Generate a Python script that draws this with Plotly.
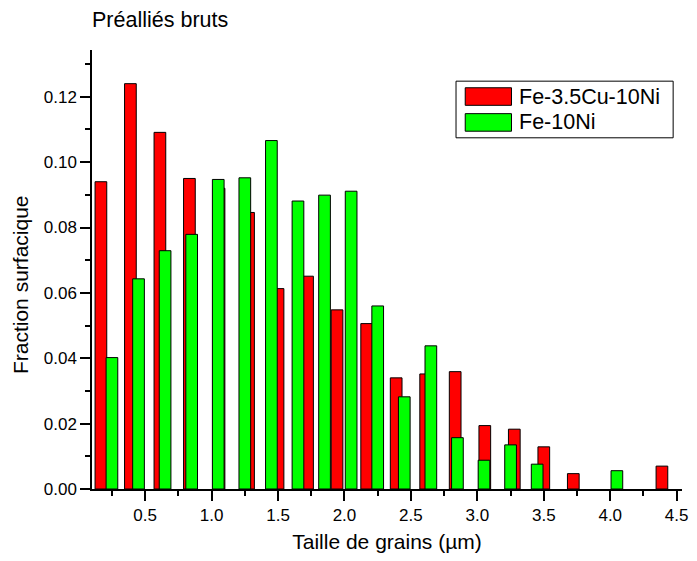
import plotly.graph_objects as go

# données
taille_cu = [0.167, 0.389, 0.611, 0.833, 1.056, 1.278, 1.5, 1.722, 1.944, 2.167,
             2.389, 2.611, 2.833, 3.056, 3.278, 3.5, 3.722, 3.944, 4.167, 4.389]
fraction_cu = [0.0940, 0.1240, 0.1091, 0.0950, 0.0920, 0.0846, 0.0613, 0.0651, 0.0548, 0.0506,
               0.0340, 0.0352, 0.0359, 0.0194, 0.0183, 0.0129, 0.0047, 0.0, 0.0, 0.0070]

taille_ni = [0.25, 0.45, 0.65, 0.85, 1.05, 1.25, 1.45, 1.65, 1.85, 2.05,
             2.25, 2.45, 2.65, 2.85, 3.05, 3.25, 3.45, 3.65, 3.85, 4.05]
fraction_ni = [0.0402, 0.0643, 0.0729, 0.0779, 0.0947, 0.0952, 0.1066, 0.0881, 0.0899, 0.0911,
               0.0560, 0.0282, 0.0438, 0.0157, 0.0088, 0.0135, 0.0076, 0.0, 0.0, 0.0056]

noms = ["Fe-3.5Cu-10Ni", "Fe-10Ni"]
couleurs = ["#ff0000", "#00ff00"]

FONT = "Liberation Sans, Arial, sans-serif"

fig = go.Figure()
# pas de contour pour les barres de hauteur nulle
for xs, ys, nom, coul in [(taille_cu, fraction_cu, noms[0], couleurs[0]),
                          (taille_ni, fraction_ni, noms[1], couleurs[1])]:
    fig.add_trace(go.Bar(x=xs, y=ys, width=0.088, name=nom,
                         marker=dict(color=coul,
                                     line=dict(color="black", width=[1 if v > 0 else 0 for v in ys]))))

# légende dessinée à la main (grands rectangles comme dans l'original)
fig.add_shape(type="rect", xref="paper", yref="paper", x0=0.617, x1=0.985, y0=0.800, y1=0.929,
              line=dict(color="black", width=1), fillcolor="white")
pos_y = [0.894, 0.835]
for nom, coul, yy in zip(noms, couleurs, pos_y):
    fig.add_shape(type="rect", xref="paper", yref="paper", x0=0.6326, x1=0.711,
                  y0=yy - 0.02, y1=yy + 0.02, line=dict(color="black", width=1), fillcolor=coul)
    fig.add_annotation(text=nom, xref="paper", yref="paper", x=0.72, y=yy,
                       xanchor="left", yanchor="middle", showarrow=False,
                       font=dict(family=FONT, size=21.5, color="black"))

fig.add_annotation(text="Fraction surfacique", xref="paper", yref="paper",
                   x=-0.12, y=0.465, textangle=-90, showarrow=False,
                   xanchor="center", yanchor="middle",
                   font=dict(family=FONT, size=21, color="black"))

fig.update_layout(
    width=697, height=561,
    margin=dict(l=92, r=9, t=50, b=72),
    paper_bgcolor="white", plot_bgcolor="white",
    barmode="overlay", showlegend=False,
    font=dict(family=FONT, color="black"),
    title=dict(text="Préalliés bruts", x=0, xref="paper", xanchor="left",
               y=0.966, yanchor="middle", font=dict(family=FONT, size=21.5, color="black")),
    xaxis=dict(range=[0.1, 4.54], tickvals=[0.5, 1.0, 1.5, 2.0, 2.5, 3.0, 3.5, 4.0, 4.5],
               tickformat=".1f", ticks="outside", ticklen=10, tickwidth=1.5, tickcolor="black",
               minor=dict(dtick=0.25, tick0=0.25, ticks="outside", ticklen=5, tickcolor="black", tickwidth=1.5),
               showline=True, linecolor="black", linewidth=1.5, showgrid=False, zeroline=False,
               tickfont=dict(family=FONT, size=17),
               title=dict(text="Taille de grains (µm)", font=dict(family=FONT, size=21), standoff=10)),
    yaxis=dict(range=[0, 0.1343], dtick=0.02, tick0=0, tickformat=".2f",
               ticks="outside", ticklen=10, tickwidth=1.5, tickcolor="black",
               minor=dict(dtick=0.01, ticks="outside", ticklen=5, tickcolor="black", tickwidth=1.5),
               showline=True, linecolor="black", linewidth=1.5, showgrid=False, zeroline=False,
               tickfont=dict(family=FONT, size=17)),
)

fig.write_html("out.html", config={"displayModeBar": False},
               post_script="document.body.style.margin='0';")
